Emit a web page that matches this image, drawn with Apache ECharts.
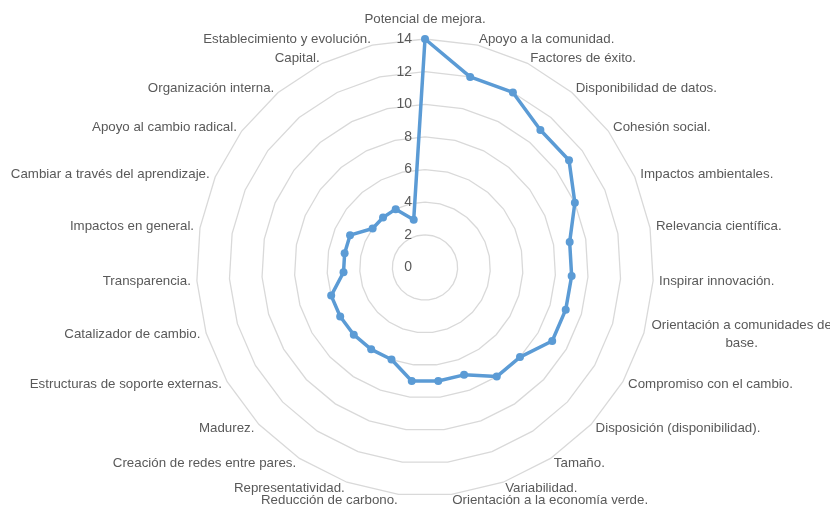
<!DOCTYPE html>
<html><head><meta charset="utf-8">
<script src="https://cdn.jsdelivr.net/npm/echarts@6/dist/echarts.min.js"></script>
<style>html,body{margin:0;padding:0;background:#fff}#c{width:830px;height:509px}</style>
</head><body><div id="c"></div>
<script>
// Categories in clockwise order starting at the top
const categories = [
  'Potencial de mejora.',
  'Apoyo a la comunidad.',
  'Factores de éxito.',
  'Disponibilidad de datos.',
  'Cohesión social.',
  'Impactos ambientales.',
  'Relevancia científica.',
  'Inspirar innovación.',
  'Orientación a comunidades de base.',
  'Compromiso con el cambio.',
  'Disposición (disponibilidad).',
  'Tamaño.',
  'Variabilidad.',
  'Orientación a la economía verde.',
  'Reducción de carbono.',
  'Representatividad.',
  'Creación de redes entre pares.',
  'Madurez.',
  'Estructuras de soporte externas.',
  'Catalizador de cambio.',
  'Transparencia.',
  'Impactos en general.',
  'Cambiar a través del aprendizaje.',
  'Apoyo al cambio radical.',
  'Organización interna.',
  'Capital.',
  'Establecimiento y evolución.'
];
const values = [14, 12, 12, 11, 11, 10, 9, 9, 9, 9, 8, 8, 7, 7, 7, 6, 6, 6, 6, 6, 5, 5, 5, 4, 4, 4, 3];
const tickLabels = ['0', '2', '4', '6', '8', '10', '12', '14'];
const axisMin = 0;
const axisMax = 14;

// ECharts lays radar indicators out counter-clockwise; reorder to get clockwise
const order = [0].concat(categories.map((_, i) => i).slice(1).reverse());
const indNames = order.map(i => categories[i]);
const indValues = order.map(i => values[i]);

const FONT = 'Liberation Sans';
const GREY = '#595959';
const FS = 13.3;

const chart = echarts.init(document.getElementById('c'), null, {renderer: 'canvas'});
chart.setOption({
  animation: false,
  backgroundColor: '#fff',
  radar: {
    center: [425, 267.5],
    radius: 228.5,
    startAngle: 90,
    splitNumber: tickLabels.length - 1,
    shape: 'polygon',
    nameGap: 6,
    indicator: indNames.map((name, k) => {
      const o = {name: name, min: axisMin, max: axisMax};
      if (k === 0) o.axisLabel = {show: true};
      return o;
    }),
    axisName: {
      color: GREY,
      fontFamily: FONT,
      fontSize: FS,
      formatter: function (name) {
        if (name === categories[0]) return '{t|' + name + '}';
        if (name === categories[8]) return '{w|Orientación a comunidades de}\n{w|base.}';
        return name;
      },
      rich: {
        t: {color: GREY, fontFamily: FONT, fontSize: FS, padding: [0, 0, 7, 0]},
        w: {color: GREY, fontFamily: FONT, fontSize: FS, width: 184, align: 'center', lineHeight: 18}
      }
    },
    axisLine: {show: false},
    axisTick: {show: false},
    axisLabel: {
      show: false,
      color: GREY,
      fontFamily: FONT,
      fontSize: 14,
      margin: 13,
      formatter: function (v) { return tickLabels[Math.round((v - axisMin) / ((axisMax - axisMin) / (tickLabels.length - 1)))]; }
    },
    splitLine: {lineStyle: {color: '#D9D9D9', width: 1.3}},
    splitArea: {show: false}
  },
  series: [{
    type: 'radar',
    symbol: 'circle',
    symbolSize: 8,
    lineStyle: {color: '#5B9BD5', width: 3.5, join: 'round'},
    itemStyle: {color: '#5B9BD5'},
    data: [{value: indValues, name: 'Serie'}]
  }]
});
</script>
</body></html>
